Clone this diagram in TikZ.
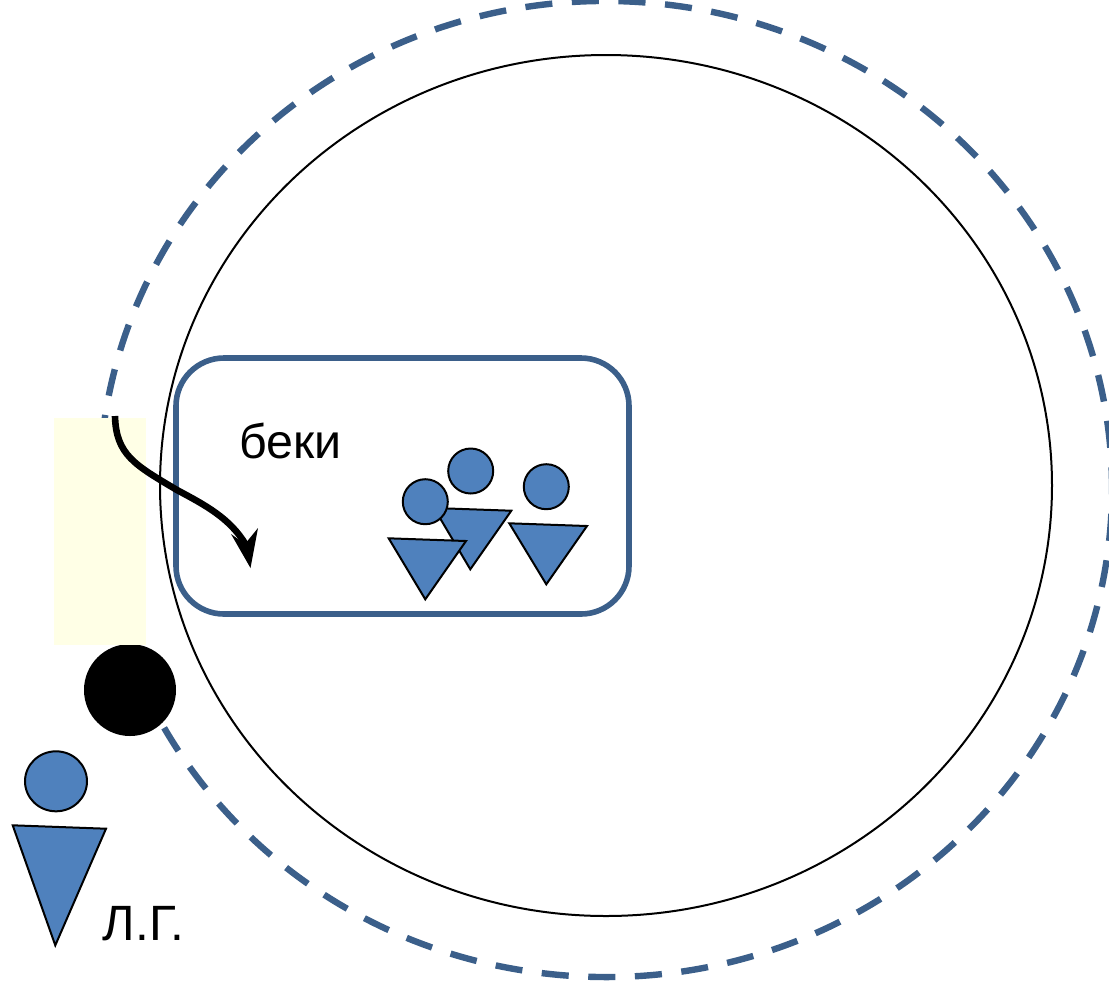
\documentclass[tikz,border=0pt]{standalone}
\usepackage{fontspec}
\setmainfont{Liberation Sans}
\definecolor{dashblue}{HTML}{3B5F8A}
\definecolor{figblue}{HTML}{4F81BD}
\definecolor{paleyellow}{HTML}{FFFFE6}
\tikzset{
  figure/.style={fill=figblue,draw=black,line width=1pt,line join=miter},
  orbit/.style={draw=dashblue,line width=3.2pt,dash pattern=on 13.55pt off 9.78pt,dash phase=6pt},
  label/.style={anchor=base west,inner sep=0pt},
}
\begin{document}
\begin{tikzpicture}[x=1pt,y=1pt,scale=.5,yscale=-1]
\useasboundingbox (0,0) rectangle (1109,982);
% dashed orbit
\draw[orbit] (605.7,489) ++(186.96:506.3pt and 488pt) arc[start angle=186.96,end angle=546.96,x radius=506.3pt,y radius=488pt];
% black ball and yellow strip
\fill[black] (130,690) circle[radius=46pt];
\fill[paleyellow] (54,418) rectangle (146,645);
% inner circle
\draw[black,line width=1pt] (606,485.5) ellipse[x radius=446pt,y radius=430.5pt];
% rounded box
\draw[dashblue,line width=2.8pt,rounded corners=24pt] (176,358) rectangle (629,614);
% arrow
\coordinate (arrowstart) at (115,416);
\coordinate (arrowmid) at (177,490);
\coordinate (arrowend) at (246,545);
\draw[black,line width=3.3pt] (arrowstart) .. controls (116,455) and (135,465) .. (arrowmid) .. controls (205,505) and (230,518) .. (arrowend);
\fill[black] (250.5,568) -- (231,534) -- (245,544) -- (258,528) -- cycle;
% labels
\node[label,font=\fontsize{24.2}{28}\selectfont] (beki) at (239,458) {беки};
\node[label,font=\fontsize{24.8}{28}\selectfont] (lg) at (102.5,940) {Л.Г.};
% figures in the box
\draw[figure] (470.7,471) circle[radius=22.5pt];
\draw[figure] (434,508) -- (511.3,510.7) -- (470.3,569.3) -- cycle;
\draw[figure] (388.7,538.3) -- (466,541) -- (425.3,599.3) -- cycle;
\draw[figure] (425.3,501.7) circle[radius=22.5pt];
\draw[figure] (546.3,486.7) circle[radius=22.5pt];
\draw[figure] (509.3,523.3) -- (587,526) -- (546.3,584.3) -- cycle;
% figure outside
\draw[figure] (56,781.3) ellipse[x radius=31pt,y radius=30pt];
\draw[figure] (12.7,825.3) -- (106,828.7) -- (55.3,945.3) -- cycle;
\end{tikzpicture}
\end{document}
